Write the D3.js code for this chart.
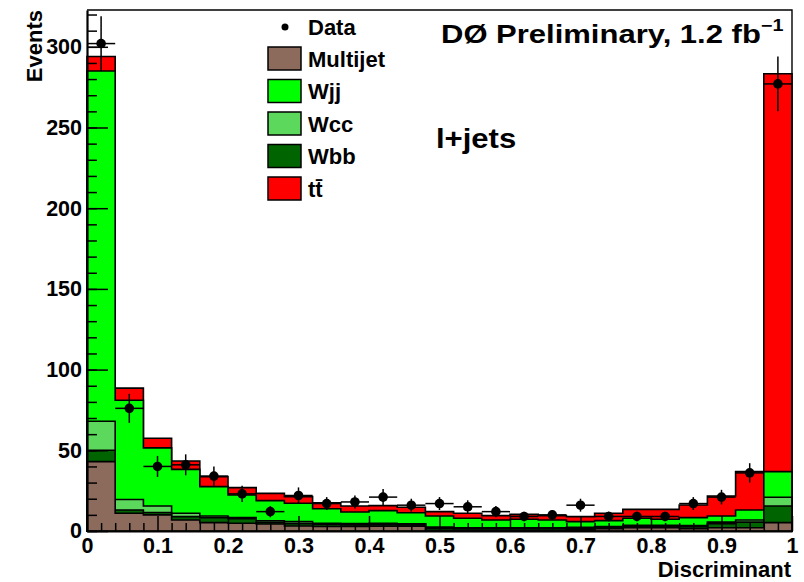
<!DOCTYPE html>
<html>
<head>
<meta charset="utf-8">
<script src="https://cdn.jsdelivr.net/npm/d3@7"></script>
<style>
  body { margin: 0; background: #fff; }
  svg { display: block; font-family: "Liberation Sans", Arial, Helvetica, sans-serif; font-weight: bold; }
</style>
</head>
<body>
<div id="chart"></div>
<script>
// bin edges of the discriminant histogram
var binEdges = [0, 0.04, 0.08, 0.12, 0.16, 0.2, 0.24, 0.28, 0.32, 0.36, 0.4, 0.44, 0.48,
  0.52, 0.56, 0.6, 0.64, 0.68, 0.72, 0.76, 0.8, 0.84, 0.88, 0.92, 0.96, 1];

// stacked MC, bottom to top
var multijet = [43, 11, 10, 6.8, 5.2, 4.8, 4.3, 3.1, 2.8, 2.8, 3.0, 3.0, 0.5, 0.5, 0.5, 0.5, 0.5, 0.8, 1.5, 2.0, 2.0, 1.5, 2.0, 2.0, 5.2];
var wbb = [7, 2, 1.5, 2.1, 3.1, 2.8, 1.0, 1.5, 1.2, 1.0, 1.0, 0.8, 1.3, 1.0, 1.0, 1.0, 1.0, 1.0, 0.8, 1.0, 1.0, 1.2, 2.5, 3.5, 10.3];
var wcc = [18, 6.5, 4, 2.1, 1.0, 0.7, 1.0, 1.2, 0.8, 0.8, 0.8, 0.6, 0.6, 0.5, 0.5, 0.5, 0.5, 0.5, 0.5, 0.5, 0.5, 0.6, 1.0, 1.3, 5.4];
var wjj = [217, 61.5, 36, 27.2, 18.2, 14, 12.5, 11.4, 9, 7.2, 7.8, 6.9, 6.9, 5.9, 4.8, 5.3, 4.8, 3.5, 3.6, 4.4, 3.8, 5.0, 3.8, 6.2, 15.9];
var ttbar = [9, 7.5, 6, 5.2, 6.2, 4.6, 4.5, 4.1, 3.7, 3.7, 3.1, 3.4, 2.7, 3.1, 2.7, 3.0, 2.7, 3.1, 4.6, 5.5, 6.1, 7.8, 12.4, 23.8, 246.5];

// data points and their errors
var dataVals = [302, 76, 40, 41, 34, 23, 12, 22, 17, 18, 21, 16, 17, 15, 12, 9, 10, 16, 9, 9, 9, 17, 21, 36, 277];
var dataErr = [17, 9, 6.5, 6.5, 6, 5, 3.5, 5, 4, 4, 5, 4, 4, 4, 3.5, 3, 3, 4, 3, 3, 3, 4, 4.5, 6, 17];

var seriesNames = ["Multijet", "Wjj", "Wcc", "Wbb", "tt\u0304"];
var stackOrder = ["Multijet", "Wbb", "Wcc", "Wjj", "tt\u0304"];
var seriesVals = {"Multijet": multijet, "Wbb": wbb, "Wcc": wcc, "Wjj": wjj, "tt\u0304": ttbar};
var colors = {"Multijet": "#8c6b5d", "Wjj": "#00ff00", "Wcc": "#5cd95c", "Wbb": "#006400", "tt\u0304": "#ff0000"};

var yTicks = [0, 50, 100, 150, 200, 250, 300];
var yMinor = [0, 10, 20, 30, 40, 50, 60, 70, 80, 90, 100, 110, 120, 130, 140, 150, 160, 170, 180, 190, 200,
  210, 220, 230, 240, 250, 260, 270, 280, 290, 300, 310, 320];
var xTicks = [0, 0.1, 0.2, 0.3, 0.4, 0.5, 0.6, 0.7, 0.8, 0.9, 1];
var xTickLabels = ["0", "0.1", "0.2", "0.3", "0.4", "0.5", "0.6", "0.7", "0.8", "0.9", "1"];
var xMinor = [0.02, 0.04, 0.06, 0.08, 0.12, 0.14, 0.16, 0.18, 0.22, 0.24, 0.26, 0.28, 0.32, 0.34, 0.36, 0.38,
  0.42, 0.44, 0.46, 0.48, 0.52, 0.54, 0.56, 0.58, 0.62, 0.64, 0.66, 0.68, 0.72, 0.74, 0.76, 0.78,
  0.82, 0.84, 0.86, 0.88, 0.92, 0.94, 0.96, 0.98];

var width = 804, height = 582;
var svg = d3.select("#chart").append("svg")
  .attr("width", width)
  .attr("height", height);

var pLeft = 87, pRight = 792, pTop = 10, pBottom = 531;
var x = d3.scaleLinear().domain([0, 1]).range([pLeft, pRight]);
var y = d3.scaleLinear().domain([0, 322.8]).range([pBottom, pTop]);

// cumulative stack
var nb = dataVals.length;
var cum = [];
var run = d3.range(nb).map(function() { return 0; });
stackOrder.forEach(function(name) {
  run = run.map(function(v, i) { return v + seriesVals[name][i]; });
  cum.push({name: name, top: run.slice()});
});

function stepPath(tops) {
  var p = "M" + x(binEdges[0]) + "," + y(0);
  for (var i = 0; i < nb; i++) {
    p += "L" + x(binEdges[i]) + "," + y(tops[i]) + "L" + x(binEdges[i + 1]) + "," + y(tops[i]);
  }
  p += "L" + x(binEdges[nb]) + "," + y(0) + "Z";
  return p;
}

// draw from the top of the stack down
var g = svg.append("g");
cum.slice().reverse().forEach(function(c) {
  g.append("path")
    .attr("d", stepPath(c.top))
    .attr("fill", colors[c.name])
    .attr("stroke", "#000")
    .attr("stroke-width", 1.6)
    .attr("stroke-linejoin", "miter");
});

// frame top / right
svg.append("path")
  .attr("d", "M" + pLeft + "," + pTop + "H" + pRight + "V" + pBottom)
  .attr("fill", "none").attr("stroke", "#000").attr("stroke-width", 1.4);

// axes
svg.append("g").attr("transform", "translate(" + pLeft + ",0)")
  .call(d3.axisLeft(y).tickValues(yTicks).tickSize(-21).tickPadding(5).tickSizeOuter(0));
svg.append("g").attr("transform", "translate(" + pLeft + ",0)")
  .call(d3.axisLeft(y).tickValues(yMinor).tickSize(-10).tickFormat("").tickSizeOuter(0))
  .select(".domain").remove();

svg.append("g").attr("transform", "translate(0," + pBottom + ")")
  .call(d3.axisBottom(x).tickValues(xTicks).tickSize(-15).tickPadding(7).tickSizeOuter(0)
    .tickFormat(function(d, i) { return xTickLabels[i]; }));
svg.append("g").attr("transform", "translate(0," + pBottom + ")")
  .call(d3.axisBottom(x).tickValues(xMinor).tickSize(-8).tickFormat("").tickSizeOuter(0))
  .select(".domain").remove();

svg.selectAll(".domain").attr("stroke-width", 2.2);
svg.selectAll(".tick line").attr("stroke-width", 1.5);
svg.selectAll(".tick text")
  .attr("font-family", "Liberation Sans, Arial, sans-serif")
  .attr("font-weight", "bold")
  .attr("font-size", 21.5)
  .attr("fill", "#000");

// data points
var dg = svg.append("g");
dataVals.forEach(function(v, i) {
  var cx = x((binEdges[i] + binEdges[i + 1]) / 2);
  dg.append("line")
    .attr("x1", x(binEdges[i])).attr("x2", x(binEdges[i + 1]))
    .attr("y1", y(v)).attr("y2", y(v))
    .attr("stroke", "#000").attr("stroke-width", 1.5);
  dg.append("line")
    .attr("x1", cx).attr("x2", cx)
    .attr("y1", y(v - dataErr[i])).attr("y2", y(v + dataErr[i]))
    .attr("stroke", "#000").attr("stroke-width", 1.5);
  dg.append("circle")
    .attr("cx", cx).attr("cy", y(v)).attr("r", 4.8)
    .attr("fill", "#000");
});

// axis titles
svg.append("text")
  .attr("transform", "translate(42,10) rotate(-90)")
  .attr("text-anchor", "end")
  .attr("font-size", 22)
  .text("Events");
svg.append("text")
  .attr("x", 791).attr("y", 577)
  .attr("text-anchor", "end")
  .attr("font-size", 22)
  .text("Discriminant");

// legend
var lg = svg.append("g");
lg.append("circle").attr("cx", 285).attr("cy", 27).attr("r", 3.5).attr("fill", "#000");
lg.append("text").attr("x", 308).attr("y", 35).attr("font-size", 22).text("Data");
seriesNames.forEach(function(name, i) {
  var cy = 58.5 + i * 32.5;
  lg.append("rect")
    .attr("x", 268).attr("y", cy - 11.5).attr("width", 33).attr("height", 23)
    .attr("fill", colors[name]).attr("stroke", "#000").attr("stroke-width", 1.5);
  lg.append("text").attr("x", 308).attr("y", cy + 8).attr("font-size", 22).text(name);
});

// labels
var t1 = svg.append("text")
  .attr("transform", "translate(441,43) scale(1.24,1)")
  .attr("font-size", 25);
t1.append("tspan").text("D\u00d8 Preliminary, 1.2 fb");
t1.append("tspan").attr("dy", -12).attr("font-size", 16).text("\u22121");

svg.append("text")
  .attr("transform", "translate(436,148) scale(1.15,1)")
  .attr("font-size", 27)
  .text("l+jets");
</script>
</body>
</html>
